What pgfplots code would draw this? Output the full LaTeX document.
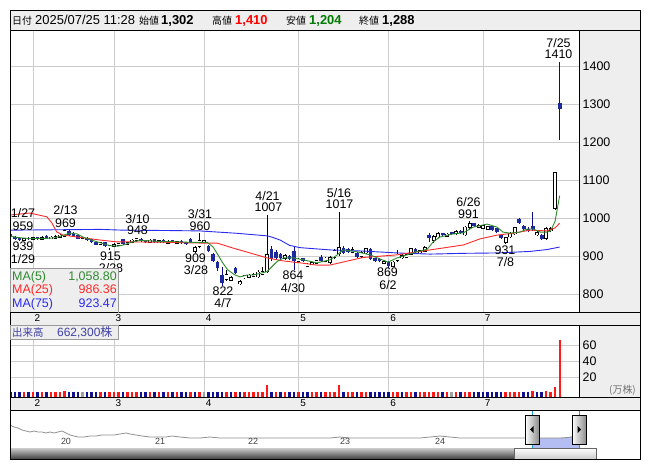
\documentclass[border=0pt]{standalone}
\usepackage{fontspec}
\setmainfont{Liberation Sans}
\newfontfamily\jp{Noto Sans CJK JP}
\usepackage{pgfplots}
\usepackage{pgfplotstable}
\pgfplotsset{compat=1.18}
\definecolor{gridc}{HTML}{CCCCCC}
\definecolor{panel}{HTML}{EEEEEE}
\definecolor{cblue}{HTML}{1C2A9C}
\definecolor{wblue}{HTML}{0A0A8A}
\definecolor{ma5c}{HTML}{2F8A2F}
\definecolor{ma25c}{HTML}{FF2A2A}
\definecolor{ma75c}{HTML}{2A2AF0}
\definecolor{vred}{HTML}{FF1A1A}
\definecolor{vblue}{HTML}{101090}
\definecolor{vgray}{HTML}{A0A0A0}
\definecolor{hred}{HTML}{FF0000}
\definecolor{hgreen}{HTML}{007A00}
\definecolor{navline}{HTML}{909090}
\definecolor{selfill}{HTML}{B4BEF2}
\definecolor{selline}{HTML}{1E9AD6}
\newcommand\fs[1]{\fontsize{#1}{#1}\selectfont}

% white (up) candles: index, open, high, low, close
\pgfplotstableread{
x o h l c
3 941 948 940 946
5 943 950 942 948
7 944 952 943 949
9 945 952 944 950
10 946 955 945 951
11 949 958 948 955
12 952 969 950 967
16 942 950 941 947
20 930 938 929 936
22 921 930 915 928
23 925 933 924 931
24 927 935 926 933
26 930 938 929 936
27 935 944 934 942
28 940 948 938 946
31 935 944 934 942
33 934 942 933 940
35 933 941 932 939
37 932 940 931 938
41 912 925 909 922
42 924 960 920 940
43 935 942 934 940
48 838 862 835 852
49 836 848 834 844
51 826 838 823 833
52 842 851 840 849
53 844 853 843 850
54 846 855 845 852
55 845 862 843 858
56 852 872 850 860
57 858 1007 855 903
61 893 905 890 902
64 885 895 884 892
66 872 882 871 879
67 876 885 875 882
68 880 890 879 888
70 886 898 883 895
71 882 900 880 897
72 897 918 892 915
73 905 1017 900 923
76 909 923 908 917
78 898 912 896 909
79 908 922 905 920
83 880 890 878 886
85 872 886 870 884
86 888 915 885 905
87 895 906 893 902
88 896 906 894 904
89 904 922 902 920
91 908 916 906 914
92 912 925 911 922
94 940 955 935 952
95 950 962 947 960
97 952 960 950 958
99 958 968 956 965
101 955 980 953 976
102 975 991 970 985
104 975 985 973 981
105 972 982 970 980
106 970 980 968 977
110 935 951 931 949
111 950 962 947 959
112 958 977 955 975
117 955 965 952 962
119 946 975 943 972
120 966 976 964 973
121 1025 1122 1022 1120
}\upT

% blue (down) candles
\pgfplotstableread{
x o h l c
0 959 959 947 950
1 951 952 943 945
2 948 949 939 942
4 948 949 942 944
6 950 951 943 945
8 952 955 945 947
13 967 968 953 955
14 960 962 950 952
15 954 956 944 946
17 948 949 940 942
18 944 945 933 936
19 938 940 928 930
21 936 937 924 926
25 944 945 930 932
29 946 947 937 939
30 941 943 933 936
32 944 946 934 936
34 942 944 934 936
36 941 942 933 934
38 940 941 932 934
39 937 938 929 931
40 946 947 934 936
44 925 928 910 912
45 905 908 884 888
46 885 888 860 868
47 850 870 822 828
50 868 872 852 856
58 918 925 888 892
59 910 915 890 895
60 905 908 890 894
62 900 903 890 893
63 912 925 864 888
65 894 895 883 886
69 897 902 884 886
74 921 925 905 908
75 918 922 908 911
77 908 910 895 898
80 918 920 890 893
81 895 896 885 888
82 893 894 883 886
84 885 888 869 873
90 918 920 908 911
93 954 960 937 948
96 960 961 951 954
98 963 964 954 957
100 967 968 957 960
103 987 988 977 980
107 978 979 967 969
108 973 974 960 962
109 956 958 944 947
113 997 999 985 988
114 979 982 968 970
115 972 975 962 965
116 980 1016 966 970
118 955 958 942 945
122 1302 1410 1204 1288
}\downT

% volume (10,000 shares)
\pgfplotstableread{
x v
3 1.0
5 1.0
7 1.2
9 1.0
10 1.0
11 1.2
12 2.0
20 1.0
22 1.2
23 1.0
24 1.0
26 1.0
27 1.2
28 1.5
31 1.0
33 1.0
35 1.0
37 1.0
40 1.0
42 1.5
48 1.5
50 1.0
52 1.0
53 1.0
54 1.0
55 1.2
56 1.5
57 10.5
59 1.0
61 1.0
64 1.0
67 1.0
68 1.0
70 1.0
71 1.0
72 1.5
73 9.5
75 1.0
76 1.0
78 1.0
79 1.0
85 1.0
86 1.5
88 1.0
89 1.0
91 1.0
92 1.0
93 1.5
94 1.2
95 1.0
97 1.0
99 1.0
101 1.5
102 1.5
110 1.2
111 1.0
112 1.5
113 1.5
116 2.0
119 2.5
120 1.5
121 8.0
122 66.2
}\volR
\pgfplotstableread{
x v
0 1.2
1 1.0
2 1.0
4 1.0
6 1.0
8 1.0
13 1.2
14 1.0
15 1.0
17 1.0
18 1.0
19 1.0
21 1.0
25 1.0
29 1.0
30 1.0
32 1.0
34 1.0
36 1.0
38 1.0
39 1.0
41 1.0
44 1.2
45 1.2
46 1.2
47 1.5
49 1.0
51 1.0
58 1.5
60 1.0
62 1.0
63 1.2
65 1.0
66 1.0
69 1.0
74 1.2
77 1.0
80 1.0
81 1.0
82 1.0
83 1.0
84 1.2
87 1.0
90 1.0
96 1.0
100 1.0
103 1.0
104 1.0
105 1.0
106 1.0
107 1.0
108 1.0
109 1.2
114 1.0
115 1.0
117 1.0
118 1.2
}\volB
\pgfplotstableread{
x v
16 1.0
43 1.0
98 1.0
}\volG

\pgfplotsset{
  wick/.style n args={1}{draw=none, mark=none, forget plot,
    error bars/.cd, y dir=plus, y explicit, error mark=none,
    error bar style={draw=#1, line width=0.8bp}},
  body/.style n args={2}{draw=none, mark=none, forget plot,
    error bars/.cd, y dir=plus, y explicit, error mark=none,
    error bar style={draw=#1, line width=#2}},
}

\begin{document}
\begin{tikzpicture}
\useasboundingbox (0,0) rectangle (653bp,-470bp);
\fill[white] (0,0) rectangle (653bp,-470bp);
% panels
\fill[panel] (10bp,-10bp) rectangle (640bp,-30bp);
\fill[panel] (579bp,-30bp) rectangle (640bp,-312bp);
\fill[panel] (10bp,-312bp) rectangle (640bp,-325bp);
\fill[panel] (579bp,-325bp) rectangle (640bp,-397bp);
\fill[panel] (10bp,-397bp) rectangle (640bp,-410bp);

% ---------------- main price chart ----------------
\begin{axis}[
  at={(10bp,-312bp)}, anchor=south west, scale only axis,
  width=569bp, height=282bp,
  xmin=-0.1, xmax=126.3, ymin=752.6, ymax=1494.7,
  axis line style={draw=none},
  xtick={5,23,43,64,84,105}, xticklabels={2,3,4,5,6,7},
  xticklabel style={font=\fs{10}, inner sep=0pt, anchor=north, xshift=4.5bp, yshift=-2bp},
  ytick={800,900,...,1400},
  yticklabel pos=right,
  yticklabel style={font=\fs{12.5}, inner sep=0pt, anchor=west, xshift=3.5bp},
  major tick length=0pt,
  grid=major, major grid style={gridc, line width=0.8bp},
  /pgf/number format/assume math mode=true,
  /pgf/number format/1000 sep={},
]
% wicks
\addplot[wick={black}] table[x=x, y=l, y error expr=\thisrow{h}-\thisrow{l}] {\upT};
\addplot[wick={wblue}] table[x=x, y=l, y error expr=\thisrow{h}-\thisrow{l}] {\downT};
% bodies
\addplot[body={black}{3.8bp}] table[x=x, y expr=\thisrow{o}-1, y error expr=\thisrow{c}-\thisrow{o}+2] {\upT};
\addplot[body={white}{2.2bp}] table[x=x, y expr=\thisrow{o}+1, y error expr=\thisrow{c}-\thisrow{o}-2] {\upT};
\addplot[body={cblue}{3.8bp}] table[x=x, y=c, y error expr=\thisrow{o}-\thisrow{c}] {\downT};
% moving averages
\addplot[ma75c, line width=0.9bp] coordinates {
(0,968) (10,969) (20,970) (25,968) (35,967) (42,966) (50,960) (55,955) (57,953) (58,950) (59.9,942) (62,928) (64.3,922) (71,916) (78.3,913) (85.9,908) (93.2,905) (100.6,907) (108.1,908) (115.4,912) (119.2,917) (122,923.5)};
\addplot[ma25c, line width=0.9bp] coordinates {
(0,1008) (4.3,1013) (8.1,1003) (9.2,987) (10.3,963) (11.7,955) (14.8,950) (19.9,942) (23.7,937) (27.2,937) (34.8,936) (42.1,934) (45.9,934) (49.4,921) (53.2,908) (57,895) (60.6,887) (64.3,882) (68.1,876) (70.9,876) (78.3,896) (85.9,903) (93.2,916) (100.6,929) (104.3,945) (108.1,955) (111.7,960) (115.4,968) (119.2,966) (121,974) (122,986.4)};
\addplot[ma5c, line width=0.9bp] coordinates {
(0,952) (2,948) (4.3,946) (7.7,946) (9.9,948) (11.4,953) (12.6,958) (13.7,960) (14.8,958) (16.1,950) (17.7,943) (19.9,935) (22.1,927) (23.9,926) (25.4,930) (27,937) (28.8,941) (31,940) (33.2,938) (35.4,938) (37.7,937) (39.9,936) (42.1,936) (43.7,936) (45,924) (46.1,903) (47.2,881) (48.3,863) (49.9,850) (51,845) (52.6,850) (53.9,850) (55.4,854) (57,859) (58.1,872) (59.2,885) (60.6,895) (62.8,895) (65,890) (68.1,882) (71,890) (72.6,903) (73.9,916) (77,911) (79.9,903) (82.1,892) (83.9,884) (85.9,895) (88.1,903) (90.3,911) (92.6,918) (93.9,937) (95.4,950) (98.3,958) (100.6,961) (102.8,976) (105.9,984) (108.1,976) (109.4,963) (111,960) (113.2,963) (114.8,971) (116.1,971) (117.7,963) (119.2,963) (120,966) (121,992) (122,1058.8)};
\end{axis}

% ---------------- volume chart ----------------
\begin{axis}[
  at={(10bp,-397bp)}, anchor=south west, scale only axis,
  width=569bp, height=72bp,
  xmin=-0.1, xmax=126.3, ymin=-5, ymax=85,
  axis line style={draw=none},
  xtick={5,23,43,64,84,105}, xticklabels={2,3,4,5,6,7},
  xticklabel style={font=\fs{10}, inner sep=0pt, anchor=north, xshift=4.5bp, yshift=-2.5bp},
  ytick={20,40,60},
  yticklabel pos=right,
  yticklabel style={font=\fs{12.5}, inner sep=0pt, anchor=west, xshift=3.5bp},
  major tick length=0pt,
  grid=major, major grid style={gridc, line width=0.8bp},
  /pgf/number format/assume math mode=true,
]
\addplot[body={vred}{2.3bp}] table[x=x, y expr=-5, y error expr=\thisrow{v}+5] {\volR};
\addplot[body={vblue}{2.3bp}] table[x=x, y expr=-5, y error expr=\thisrow{v}+5] {\volB};
\addplot[body={vgray}{2.3bp}] table[x=x, y expr=-5, y error expr=\thisrow{v}+5] {\volG};
\end{axis}

% ---------------- navigator ----------------
\begin{axis}[
  at={(10bp,-448bp)}, anchor=south west, scale only axis,
  width=630bp, height=38bp,
  xmin=10, xmax=640, ymin=0, ymax=38,
  axis lines=none, clip=true,
]
\addplot[draw=none, fill=selfill, forget plot] coordinates {(532,0) (532,10) (540,10) (550,10) (560,10) (568,10.5) (574,11.5) (579,14) (579,0)} -- cycle;
\addplot[navline, line width=0.8bp] coordinates {
(10,23) (14,21) (18,20) (22,18) (26,17) (30,16) (34,17) (38,16) (42,16) (46,15) (50,16) (54,15) (58,16) (62,17) (66,15) (70,13) (74,12) (78,11) (84,11) (90,12) (96,12) (102,13) (108,13) (114,13) (120,14) (126,15) (130,14) (136,13) (142,12) (150,11) (158,11) (166,11) (172,12) (180,11) (190,10) (200,10) (210,11) (220,10) (230,10) (240,10) (250,10) (260,10) (270,10) (280,10) (290,10) (300,10) (310,10) (320,10) (330,10) (340,11) (350,10) (360,10) (370,10) (380,10) (390,10) (400,10) (410,10) (420,10) (430,11) (440,12) (450,11) (460,10) (470,10) (480,10) (490,10) (500,10) (510,10) (520,10) (532,10) (540,10) (550,10) (560,10) (568,10.5) (574,11.5) (579,14)};
\end{axis}
% year labels
\foreach \xx/\yy in {66/20,160/21,253/22,345/23,440/24}
  \node[font=\fs{9}, inner sep=0pt, anchor=base, text=black!75] at (\xx bp,-444bp) {\yy};
% selection lines and handles
\draw[selline, line width=0.8bp] (532bp,-410bp) -- (532bp,-448bp);
\draw[selline, line width=0.8bp] (579bp,-410bp) -- (579bp,-448bp);
\shade[left color=white, right color=black!45, draw=black, line width=0.6bp] (525bp,-415bp) rectangle (539bp,-444bp);
\shade[left color=white, right color=black!45, draw=black, line width=0.6bp] (572bp,-415bp) rectangle (586bp,-444bp);
\fill[black] (530bp,-429.5bp) -- (533.5bp,-426bp) -- (533.5bp,-433bp) -- cycle;
\fill[black] (581bp,-429.5bp) -- (577.5bp,-426bp) -- (577.5bp,-433bp) -- cycle;
% scrollbar
\shade[top color=black!20, bottom color=black!75] (10bp,-448bp) rectangle (514bp,-459bp);
\shade[top color=white, bottom color=black!20, draw=black!60, line width=0.6bp] (514bp,-448bp) rectangle (596bp,-459bp);

% ---------------- frames ----------------
\draw[black, line width=0.8bp] (10bp,-10bp) rectangle (640bp,-459bp);
\draw[black, line width=0.8bp] (10bp,-30bp) -- (640bp,-30bp);
\draw[black, line width=0.8bp] (10bp,-312bp) -- (640bp,-312bp);
\draw[black, line width=0.8bp] (10bp,-325bp) -- (640bp,-325bp);
\draw[black, line width=0.8bp] (10bp,-397bp) -- (640bp,-397bp);
\draw[black, line width=0.8bp] (10bp,-410bp) -- (640bp,-410bp);
\draw[black, line width=0.8bp] (579bp,-30bp) -- (579bp,-312bp);
\draw[black, line width=0.8bp] (579bp,-325bp) -- (579bp,-397bp);

% ---------------- header ----------------
\node[anchor=base west, inner sep=0pt, font=\jp\fs{10}] at (12bp,-24bp) {日付};
\node[anchor=base west, inner sep=0pt, font=\fs{13}] at (35bp,-24bp) {2025/07/25 11:28};
\node[anchor=base west, inner sep=0pt, font=\jp\fs{10}] at (139bp,-24bp) {始値};
\node[anchor=base west, inner sep=0pt, font=\bfseries\fs{13}] at (161bp,-24bp) {1,302};
\node[anchor=base west, inner sep=0pt, font=\jp\fs{10}] at (212bp,-24bp) {高値};
\node[anchor=base west, inner sep=0pt, font=\bfseries\fs{13}, text=hred] at (235bp,-24bp) {1,410};
\node[anchor=base west, inner sep=0pt, font=\jp\fs{10}] at (286bp,-24bp) {安値};
\node[anchor=base west, inner sep=0pt, font=\bfseries\fs{13}, text=hgreen] at (309bp,-24bp) {1,204};
\node[anchor=base west, inner sep=0pt, font=\jp\fs{10}] at (359bp,-24bp) {終値};
\node[anchor=base west, inner sep=0pt, font=\bfseries\fs{13}] at (382bp,-24bp) {1,288};

% ---------------- annotations ----------------
\foreach \xx/\yy/\tt in {
  23/217/{1/27}, 23/230/959, 23/250/939, 23/263/{1/29},
  65.5/214/{2/13}, 65.5/227/969,
  137.5/223/{3/10}, 137.5/234/948,
  110.5/260/915, 111/272/{2/28},
  200/218/{3/31}, 200/230/960,
  195.5/262/909, 196/274/{3/28},
  267.5/200/{4/21}, 268.5/211/1007,
  223/295/822, 223/307/{4/7},
  293/279/864, 293/292/{4/30},
  339/197/{5/16}, 339.5/208/1017,
  387.5/276.5/869, 388/289/{6/2},
  468.5/206.5/{6/26}, 468.5/218/991,
  505/254/931, 505.5/266/{7/8},
  558.5/47/{7/25}, 558.5/58.5/1410}
  \node[anchor=base, inner sep=0pt, font=\fs{12.5}] at (\xx bp,-\yy bp) {\tt};

% MA legend box
\filldraw[fill=panel, draw=black!40, line width=0.6bp] (10bp,-268bp) rectangle (118bp,-312bp);
\node[anchor=base west, inner sep=0pt, font=\fs{12.5}, text=ma5c] at (12bp,-280bp) {MA(5)};
\node[anchor=base east, inner sep=0pt, font=\fs{12.5}, text=ma5c] at (117bp,-280bp) {1,058.80};
\node[anchor=base west, inner sep=0pt, font=\fs{12.5}, text=ma25c] at (12bp,-293.5bp) {MA(25)};
\node[anchor=base east, inner sep=0pt, font=\fs{12.5}, text=ma25c] at (117bp,-293.5bp) {986.36};
\node[anchor=base west, inner sep=0pt, font=\fs{12.5}, text=ma75c] at (12bp,-307bp) {MA(75)};
\node[anchor=base east, inner sep=0pt, font=\fs{12.5}, text=ma75c] at (117bp,-307bp) {923.47};
\draw[black, line width=0.8bp] (10bp,-312bp) -- (118bp,-312bp);

% volume label box
\filldraw[fill=panel, draw=black!40, line width=0.6bp] (10bp,-325bp) rectangle (118bp,-339bp);
\node[anchor=base west, inner sep=0pt, font=\jp\fs{10.5}, text=vblue!80] at (12bp,-336bp) {出来高};
\node[anchor=base west, inner sep=0pt, font=\fs{12}, text=vblue!80] at (57bp,-336bp) {662,300\jp 株};
\node[anchor=base west, inner sep=0pt, font=\jp\fs{10}, text=black!55] at (609bp,-393bp) {(万株)};
\end{tikzpicture}
\end{document}
